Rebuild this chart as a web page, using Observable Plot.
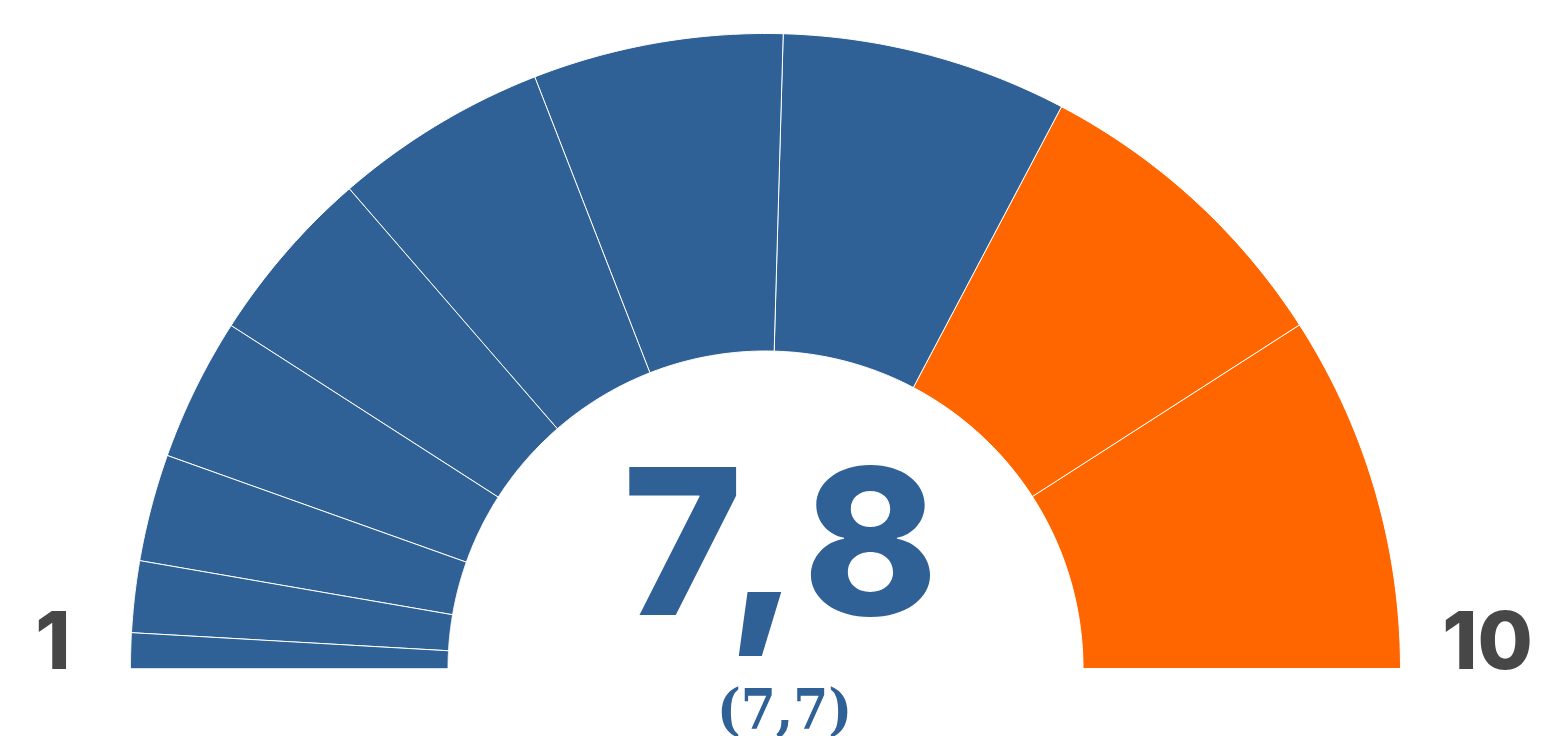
<!DOCTYPE html>
<html>
<head>
<meta charset="utf-8">
<script src="https://cdn.jsdelivr.net/npm/d3@7"></script>
<script src="https://cdn.jsdelivr.net/npm/@observablehq/plot@0.6"></script>
<style>
  html, body { margin: 0; padding: 0; background: #fff; overflow: hidden; }
  #chart svg { display: block; }
</style>
</head>
<body>
<div id="chart"></div>
<script>
// ---- data ----
const segmentLabels = ["1", "2", "3", "4", "5", "6", "7", "8", "9", "10"];
const segmentWeights = [1, 2, 3, 4, 5, 6, 7, 8, 9, 10];
const segmentColors = ["#2f6096", "#2f6096", "#2f6096", "#2f6096", "#2f6096", "#2f6096", "#2f6096", "#2f6096", "#ff6600", "#ff6600"];
const endLabels = ["1", "10"];
const mainValue = "7,8";
const previousValue = "(7,7)";
const innerRatio = 0.5;

// build wedge outlines in unit (data) space from cumulative weights
const total = d3.sum(segmentWeights);
const wedgePoints = [];
let cum = 0;
segmentLabels.forEach((label, i) => {
  const a0 = (cum / total) * Math.PI;
  cum += segmentWeights[i];
  const a1 = (cum / total) * Math.PI;
  const n = 60;
  const outer = d3.range(n + 1).map(k => a0 + (a1 - a0) * k / n);
  const inner = outer.slice().reverse();
  outer.forEach(a => wedgePoints.push({seg: label, color: segmentColors[i], x: -Math.cos(a), y: Math.sin(a)}));
  inner.forEach(a => wedgePoints.push({seg: label, color: segmentColors[i], x: -Math.cos(a) * innerRatio, y: Math.sin(a) * innerRatio}));
});

const chart = Plot.plot({
  width: 1541,
  height: 736,
  marginLeft: 130,
  marginRight: 141,
  marginTop: 33,
  marginBottom: 68,
  x: {domain: [-1, 1], axis: null},
  y: {domain: [0, 1], axis: null},
  color: {type: "identity"},
  marks: [
    Plot.line(wedgePoints, {x: "x", y: "y", z: "seg", fill: "color", stroke: "white", strokeWidth: 1, curve: "linear-closed"}),
    Plot.text([endLabels[0]], {x: -1.122, y: 0, text: d => d, fontSize: 80, fontWeight: 800, fill: "#474747", fontFamily: "Inter", lineAnchor: "bottom"}),
    Plot.text([endLabels[1]], {x: 1.137, y: 0, text: d => d, fontSize: 80, fontWeight: 800, fill: "#474747", fontFamily: "Inter", lineAnchor: "bottom"}),
    Plot.text([mainValue], {x: 0.0315, y: 0.0835, text: d => d, fontSize: 204, fontWeight: 800, fill: "#2f6096", fontFamily: "Inter", lineAnchor: "bottom"}),
    Plot.text([previousValue], {x: 0.03, y: -0.0945, text: d => d, fontSize: 56, fontWeight: 700, fill: "#2f6096", fontFamily: "DejaVu Serif Condensed", lineAnchor: "bottom"})
  ]
});
d3.select(chart).selectAll("text").filter(function() { return this.textContent === mainValue; }).style("letter-spacing", "10px");
document.getElementById("chart").appendChild(chart);
</script>
</body>
</html>
